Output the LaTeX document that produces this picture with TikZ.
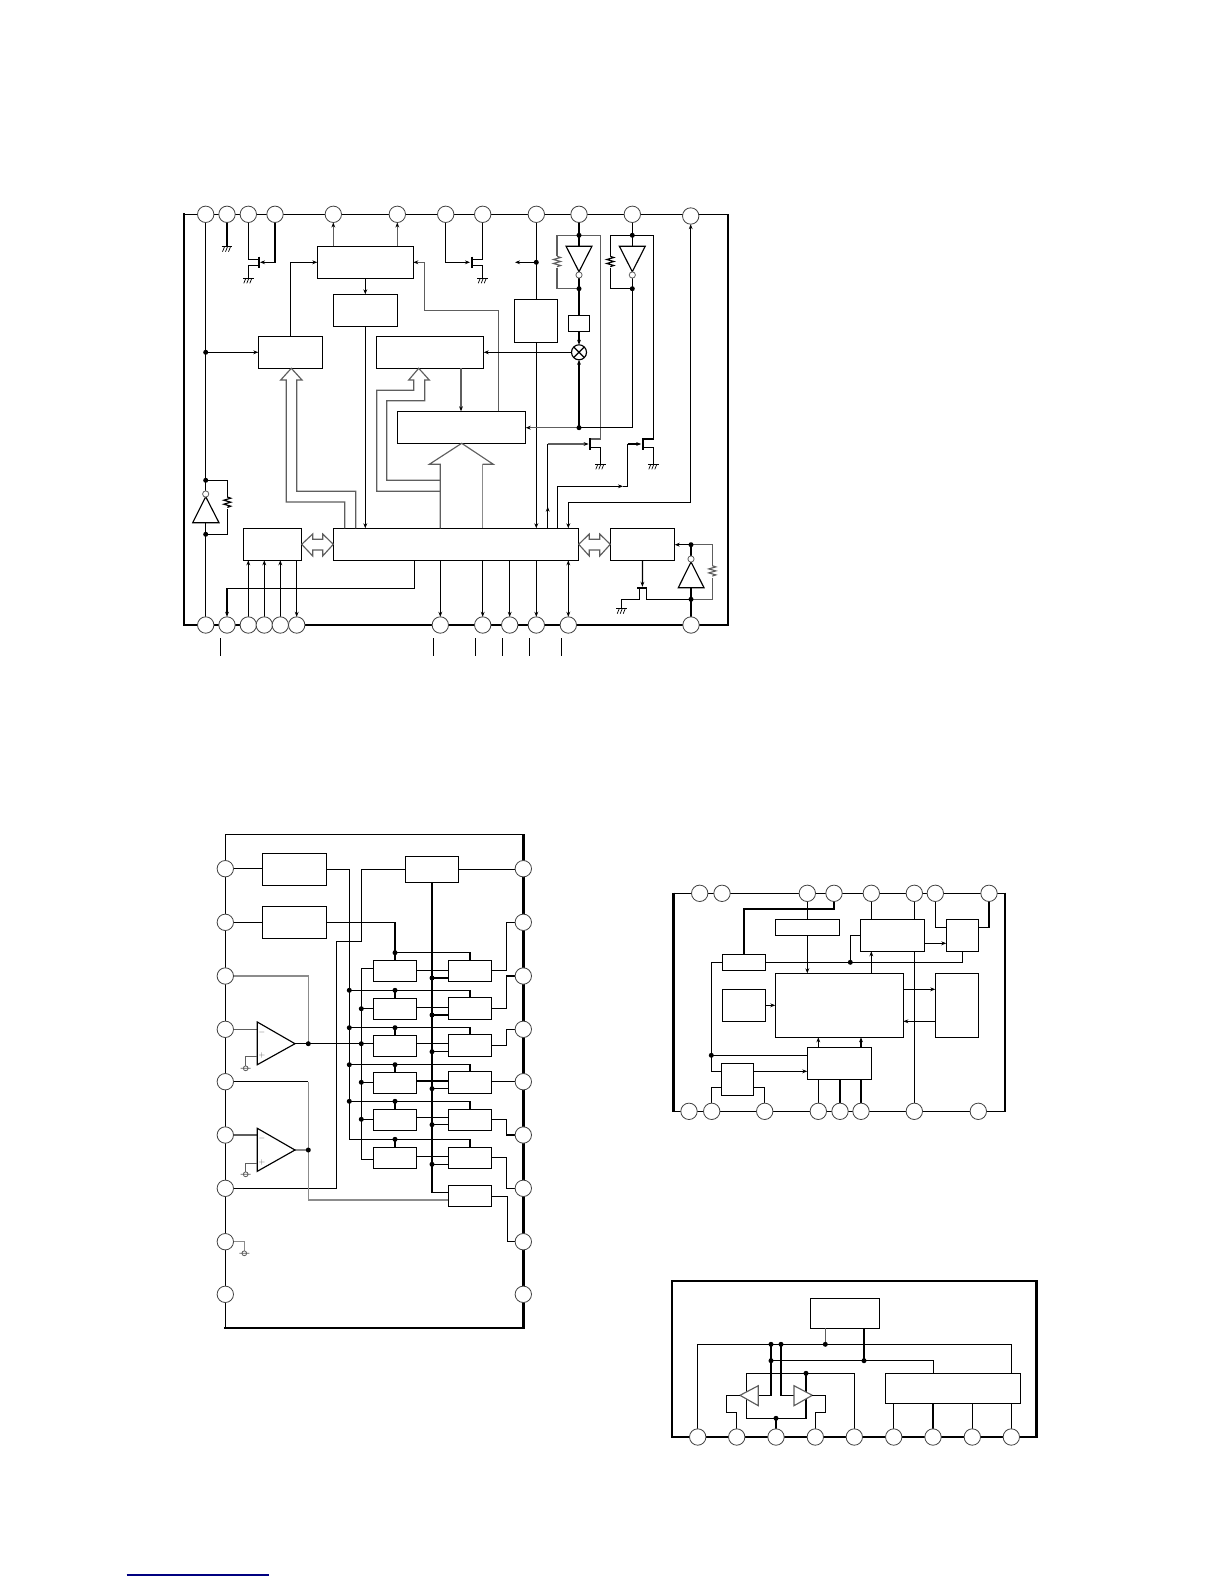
\documentclass[tikz,border=0pt]{standalone}
\usetikzlibrary{arrows.meta,calc}
\pgfdeclarelayer{front}
\pgfsetlayers{main,front}
\definecolor{gline}{HTML}{5E5E5E}
\definecolor{gpale}{HTML}{8C8C8C}
\definecolor{navyline}{HTML}{000080}
\tikzset{
 wire/.style={line width=1.15pt,draw=black},
 gw/.style={line width=1.15pt,draw=gline},
 gp/.style={line width=1.15pt,draw=gpale},
 tipstyle/.tip={Stealth[length=5pt,width=3.8pt]},
 blacktip/.tip={Stealth[length=5pt,width=3.8pt,color=black]},
 arr/.style={wire,-{tipstyle}},
 garr/.style={gw,-{blacktip}},
 dbl/.style={wire,{tipstyle}-{tipstyle}},
 bar/.style={line width=1.9pt,draw=black},
 thickf/.style={line width=2.4pt,draw=black},
 thinf/.style={line width=1.3pt,draw=black},
 blk/.style={draw=black,line width=1.15pt,fill=white,inner sep=0pt,outer sep=0pt,rectangle,anchor=north west},
 pinc/.style={circle,draw=gline!70!black,line width=.8pt,fill=white,minimum size=16.4pt,inner sep=0pt,outer sep=0pt},
 dot/.style={circle,fill=black,draw=none,minimum size=5pt,inner sep=0pt,outer sep=0pt},
 tri/.style={draw=black,line width=1.15pt,fill=white},
 gtri/.style={draw=gline,line width=1.15pt,fill=white},
 bub/.style={draw=gline,line width=.8pt,fill=white},
 sign/.style={inner sep=0pt,font=\footnotesize,text=gline},
}
\newcommand\bx[5]{\node[blk,minimum width={(#4-#2)*1pt},minimum height={(#5-#3)*1pt}] (#1) at (#2,#3) {};}
\newcommand\pin[3]{\begin{pgfonlayer}{front}\node[pinc] (#1) at (#2,#3) {};\end{pgfonlayer}}
\newcommand\jn[3]{\begin{pgfonlayer}{front}\node[dot] (#1) at (#2,#3) {};\end{pgfonlayer}}
\newcommand\gnd[2]{\draw[wire] (#1-5.3,#2) -- (#1+5.3,#2);
 \draw[line width=.7pt] (#1-2.5,#2) -- ++(-2,5) (#1+.5,#2) -- ++(-2,5) (#1+3.5,#2) -- ++(-2,5);}
\newcommand\sgnd[2]{\draw[line width=.8pt,draw=gline] (#1,#2) circle (2.4) (#1-5,#2) -- (#1+5,#2);}
\newcommand\res[3][gw]{\draw[#1,line join=miter] (#2,#3) -- ++(3.5,1.2) -- ++(-7,2) -- ++(7,2) -- ++(-7,2) -- ++(7,2) -- ++(-3.5,1.2);}
\newcommand\invdn[1]{\draw[tri] (#1-12.9,246.3) -- (#1+12.9,246.3) -- (#1,271.7) -- cycle;
 \draw[bub] (#1,275) circle (3.1);}
\begin{document}
\begin{tikzpicture}[x=1pt,y=-1pt]
\useasboundingbox (0,0) rectangle (1224,1584);
\fill[white] (0,0) rectangle (1224,1584);

%%%%%%%%%%%%% Diagram 1
\draw[thinf] (184,214.3) -- (727.7,214.3);
\draw[thickf] (727.7,214.3) -- (727.7,625) -- (184,625) -- (184,213);
\foreach \n/\x in {1/205.7,2/227,3/248.3,4/275,5/333.3,6/397.3,7/445.7,8/482.7,9/536.3,10/579,11/632.3}{\pin{t\n}{\x}{214.3}}
\pin{t12}{690.7}{216}
\foreach \n/\x in {1/205.7,2/227,3/248.3,4/264.3,5/280.3,6/296.7,7/440.3,8/482.7,9/509.7,10/536.3,11/568.3,12/691}{\pin{b\n}{\x}{625}}
\foreach \x in {220.3,433.3,475.3,502.3,529.3,561.3}{\draw[wire] (\x,638.3) -- (\x,655.7);}

\bx{Aa}{317.3}{246.3}{413.3}{278.3}
\bx{Ab}{333.3}{294.3}{397.3}{326.3}
\bx{Ac}{258.3}{336.3}{322.7}{368.3}
\bx{Ad}{376.3}{336.3}{483.7}{368.3}
\bx{Ae}{397.3}{411.3}{525.7}{443.3}
\bx{Af}{514.3}{299.3}{557.7}{342.3}
\bx{Ag}{568.3}{315.3}{589.7}{331.3}
\bx{Ah}{333.3}{528.3}{578.7}{560.3}
\bx{Ai}{243.3}{528.3}{301.7}{560.3}
\bx{Aj}{610.3}{528.3}{674.7}{560.3}
\node[circle,draw=black,line width=1.15pt,minimum size=15pt,inner sep=0pt,outer sep=0pt,fill=white] (mx) at (579,352.3) {};
\draw[wire] (mx.45) -- (mx.225) (mx.135) -- (mx.315);

\jn{j11}{205.7}{352.3}
\jn{j12}{205.7}{480.3}
\jn{j13}{205.7}{534.3}
\jn{j91}{536.3}{262.3}
\jn{j101}{579}{235.3}
\jn{j102}{579}{288.7}
\jn{j103}{579}{427.7}
\jn{j111}{632.3}{235.3}
\jn{j112}{632.3}{288.7}
\jn{j121}{691}{544.7}
\jn{j122}{691}{599.3}

\draw[wire] (t1.south) -- (b1.north);
\draw[arr] (j11.center) -- (j11 -| Ac.west);
\draw[tri] (205.7,496.7) -- (219,522.7) -- (192.7,522.7) -- cycle;
\draw[bub] (205.7,494) circle (3.1);
\draw[wire] (j12.center) -| (227.3,497);
\res[wire]{227.3}{497}
\draw[wire] (227.3,509) |- (j13.center);

\draw[line width=2pt] (t2.south) -- (227,246.7);
\gnd{227}{246.7}
\draw[wire] (t3.south) |- (259,259.3);
\draw[arr] (t4.south) |- (260,262.3);
\draw[bar] (259,256.7) -- (259,267.7);
\draw[wire] (259,265.3) -| (248.3,278.3);
\gnd{248.3}{278.3}

\draw[arr] (Ac.north) |- (Aa.west);
\draw[garr] (t5.south |- Aa.north) -- (t5.south);
\draw[garr] (t6.south |- Aa.north) -- (t6.south);
\draw[arr] (Aa.south) -- (Ab.north);
\draw[arr] (Ab.south) -- (Ab.south |- Ah.north);
\draw[garr] (Ae.north -| 498.7,0) |- (424.3,310.3) |- (Aa.east);

\draw[arr] (t7.south) |- (470,262.3);
\draw[wire] (t8.south) |- (471.7,259.3);
\draw[bar] (471.7,256.7) -- (471.7,267.7);
\draw[wire] (471.7,265.3) -| (482.7,278.3);
\gnd{482.7}{278.3}

\draw[wire] (t9.south) -- (t9.south |- Af.north);
\draw[arr] (t9.south |- Af.south) -- (t9.south |- Ah.north);
\draw[arr] (j91.center) -- (515,262.3);

\draw[wire] (t10.south) -- (j102.center);
\invdn{579}
\draw[wire] (j102.center) -- (Ag.north);
\draw[arr] (Ag.south) -- (mx.north);
\draw[arr] (mx.west) -- (mx.west -| Ad.east);
\draw[arr] (j103.center) -- (mx.south);
\draw[gw] (j101.center) -| (557,256.3);
\res{557}{256.3}
\draw[gw] (557,268.3) |- (j102.center);
\draw[gw] (j101.center) -| (600.3,439) -- (590,439);
\draw[bar] (590,438.3) -- (590,450);
\draw[wire] (590,447.7) -| (600.3,464.3);
\gnd{600.3}{464.3}
\draw[wire] (Ah.north -| 547.7,0) -- (547.7,444);
\draw[arr] (Ah.north -| 547.7,0) -- (547.7,506.7);
\draw[garr] (547.7,444) -- (588.6,444);

\draw[wire] (t11.south) -- (j112.center);
\invdn{632.3}
\draw[wire] (j112.center) |- (j103.center);
\draw[garr] (j103.center) -- (j103 -| Ae.east);
\draw[wire] (j111.center) -| (610.3,256.3);
\res[wire]{610.3}{256.3}
\draw[wire] (610.3,268.3) |- (j112.center);
\draw[wire] (j111.center) -| (653.3,439) -- (642.7,439);
\draw[bar] (642.7,438.3) -- (642.7,450);
\draw[wire] (642.7,447.7) -| (653.3,464.3);
\gnd{653.3}{464.3}
\draw[arr] (Ah.north -| 557.3,0) |- (623,486.3);
\draw[wire] (623,486.3) -- (627.7,486.3) -- (627.7,444);
\draw[arr] (627.7,444) -- (641.2,444);

\draw[dbl] (t12.south) |- (568.3,502.3) -- (Ah.north -| 568.3,0);
\draw[garr] (Ad.south -| 461,0) -- (Ae.north -| 461,0);

% big arrows
\draw[gw,line join=miter] (Ah.north -| 344.7,0) |- (286.3,502) -- (286.3,380) -- (280.7,380) -- (Ac.south -| 291.3,0) -- (302,380) -- (296.7,380) -- (296.7,491.3) -| (Ah.north -| 355.7,0);
\draw[gw,line join=miter] (Ah.north -| 440.3,0) -- (440.3,464.3) -- (429.3,464.3) -- (Ae.south -| 461.7,0) -- (493.3,464.3) -- (482.7,464.3);
\draw[gp] (482.7,464.3) -- (Ah.north -| 482.7,0);
\draw[gw,line join=miter] (440.3,491.3) -- (376.7,491.3) |- (413.7,390.3) -- (413.7,380) -- (408.7,380) -- (Ad.south -| 418.7,0) -- (429.3,380) -- (424.7,380) -- (424.7,400.7) -- (386.7,400.7) |- (440.3,480.3);
% double arrows
\draw[gw,line join=miter] (Ai.east) -- (312.7,534) -- (312.7,539.3) -- (322.7,539.3) -- (322.7,534) -- (Ah.west) -- (322.7,556) -- (322.7,550) -- (312.7,550) -- (312.7,556) -- cycle;
\draw[gw,line join=miter] (Ah.east) -- (589.3,534) -- (589.3,539.3) -- (599.7,539.3) -- (599.7,534) -- (Aj.west) -- (599.7,556) -- (599.7,550) -- (589.3,550) -- (589.3,556) -- cycle;

\draw[arr] (Ah.south -| 414.7,0) |- (227,588.3) -- (b2.north);
\foreach \n in {3,4,5}{\draw[arr] (b\n.north) -- (b\n.north |- Ai.south);}
\draw[arr] (b6.north |- Ai.south) -- (b6.north);
\foreach \n in {7,8,9,10}{\draw[arr] (b\n.north |- Ah.south) -- (b\n.north);}
\draw[dbl] (b11.north |- Ah.south) -- (b11.north);

\draw[arr] (Aj.south) -- (642.4,586.8);
\draw[bar] (637.3,587.7) -- (647.3,587.7);
\draw[wire] (639.7,587.7) |- (621.7,599.3) -- (621.7,608.7);
\gnd{621.7}{608.7}
\draw[wire] (646.7,587.7) |- (j122.center);
\draw[wire] (b12.north) -- (j121.center);
\draw[tri] (691,562) -- (704,587.7) -- (678.3,587.7) -- cycle;
\draw[bub] (691,559) circle (3.1);
\draw[arr] (j121.center) -- (j121 -| Aj.east);
\draw[gw] (j121.center) -| (712.3,565.7);
\res{712.3}{565.7}
\draw[gw] (712.3,577.7) |- (j122.center);

%%%%%%%%%%%%% Diagram 2
\draw[thinf] (225.3,1327.7) -- (225.3,834.3) -- (523.3,834.3);
\draw[thickf] (523.3,834) -- (523.3,1327.7) -- (224.2,1327.7);
\foreach \n/\y in {1/868.7,2/922.3,3/976,4/1029.3,5/1081.7,6/1135,7/1188.3,8/1241.7,9/1294.3}{
 \pin{pl\n}{225.3}{\y}
 \pin{pr\n}{523.3}{\y}
}
\bx{Bp}{262.3}{853.3}{326.7}{885.3}
\bx{Bq}{262.3}{906.3}{326.7}{938.3}
\bx{Br}{405.3}{856.3}{458.7}{882.3}
\bx{M7}{448.3}{1185.3}{491.7}{1206.3}

\draw[wire] (pl1.east) -- (pl1.east -| Bp.west);
\draw[wire] (pl2.east) -- (pl2.east -| Bq.west);
\draw[wire] (Br.east) -- (Br.east -| pr1.west);
\draw[wire] (Bp.east) -- (349.3,869.3) -- (349.3,1139.3) -- (395,1139.3);
\draw[wire] (Br.west) -- (361.7,869.3) -- (361.7,941.3) -- (336.7,941.3) |- (pl7.east);
\draw[wire] (361.3,968.7) -- (361.3,1159.3);
\draw[wire] (Br.south) |- (M7.west |- 0,1192.3);

\foreach \k/\lt/\lb/\rt/\rb/\ya/\yc/\ye/\yr in {
 1/960.3/981.3/960.3/981.3/970.3/978/968.7/952.7,
 2/998.3/1019.3/997.3/1019.3/1007.3/1015/1008.7/990.3,
 3/1035.3/1056.3/1034.3/1056.3/1043.3/1051.7/1043.7/1027.7,
 4/1072.7/1093.3/1071.3/1093.3/1081/1088.7/1082.3/1064.7,
 5/1109.3/1130.3/1109.3/1130.3/1117.3/1124.7/1119.3/1101.3,
 6/1147.3/1168.3/1147.3/1168.3/1156.3/1164.3/1159.3/1139.3}{
 \bx{L\k}{373.3}{\lt}{416.7}{\lb}
 \bx{M\k}{448.3}{\rt}{491.7}{\rb}
 \jn{rl\k}{395}{\yr}
 \jn{rc\k}{432}{\yc}
 \draw[wire] (rl\k.center) -- (L\k.north);
 \draw[wire] (rl\k.center) -| (M\k.north);
 \draw[wire] (L\k.east |- 0,\ya) -- (M\k.west |- 0,\ya);
 \draw[wire] (rc\k.center) -- (rc\k -| M\k.west);
 \draw[wire] (361.3,\ye) -- (L\k.west |- 0,\ye);
}
\foreach \k/\y in {2/990.3,3/1027.7,4/1064.7,5/1101.3}{
 \jn{ba\k}{349.3}{\y}
 \draw[wire] (ba\k.center) -- (rl\k.center);
}
\foreach \k/\y in {2/1008.7,3/1043.7,4/1082.3,5/1119.3}{\jn{bb\k}{361.3}{\y}}
\draw[wire] (Bq.east) -| (L1.north);
\draw[wire] (Br.south) -- (Br.south |- 0,1192.3);
\draw[wire] (M1.east |- 0,970.3) -- (506.3,970.3) |- (pr2.west);
\draw[wire] (M2.east |- 0,1008.3) -- (506.3,1008.3) |- (pr3.west);
\draw[wire] (M3.east |- 0,1045.3) -- (506.3,1045.3) |- (pr4.west);
\draw[wire] (M4.east |- 0,1081.7) -- (pr5.west);
\draw[wire] (M5.east |- 0,1119.3) -- (506.3,1119.3) |- (pr6.west);
\draw[wire] (M6.east |- 0,1157.3) -- (506.3,1157.3) |- (pr7.west);
\draw[wire] (M7.east |- 0,1196.3) -- (507.3,1196.3) |- (pr8.west);

% op amps
\jn{oj1}{308.3}{1043.7}
\jn{oj2}{308.3}{1150}
\draw[gp] (oj1.center) |- (pl3.east);
\draw[gw] (pl4.east) -- (257.3,1029.3);
\draw[wire] (295,1043.7) -- (361.3,1043.7);
\draw[tri] (257.3,1022) -- (295,1043.7) -- (257.3,1064.7) -- cycle;
\node[sign] (m1) at (262,1032) {$-$};
\node[sign] (p1) at (262,1055) {$+$};
\draw[gw] (257.3,1056.3) -- (245.7,1056.3) -- (245.7,1065.8);
\sgnd{245.7}{1068.3}
\draw[gp,line width=1.4pt] (oj2.center |- pl5.east) -- (308.3,1200) -- (M7.west |- 0,1200);
\draw[wire] (pl5.east) -- (308.3,1081.7);
\draw[gw] (pl6.east) -- (257.3,1135);
\draw[gp] (295,1150) -- (oj2.center);
\draw[tri] (257.3,1128.3) -- (295,1150) -- (257.3,1171.3) -- cycle;
\node[sign] (m2) at (262,1138.5) {$-$};
\node[sign] (p2) at (262,1162) {$+$};
\draw[gw] (257.3,1163.3) -- (245.7,1163.3) -- (245.7,1171.9);
\sgnd{245.7}{1174.3}
\draw[gp,line width=1.3pt] (pl8.east) -- (244.3,1241.7) -- (244.3,1250.9);
\sgnd{244.3}{1253.3}

%%%%%%%%%%%%% Diagram 3
\draw[thinf] (673.3,893.3) -- (1004.7,893.3);
\draw[thinf] (673.3,1111.3) -- (1004.7,1111.3);
\draw[thickf] (673.3,892.5) -- (673.3,1112.2);
\draw[thickf] (1004.7,892.5) -- (1004.7,1112.2);
\foreach \n/\x in {1/699.7,2/722,3/807.3,4/834,5/871.3,6/914.3,7/935.3,8/989}{\pin{c\n}{\x}{893.3}}
\foreach \n/\x in {1/689,2/711.7,3/764.7,4/818.3,5/840,6/861,7/914.3,8/978.3}{\pin{e\n}{\x}{1111.3}}
\bx{Ca}{775.3}{919.3}{839.7}{935.3}
\bx{Cb}{860.3}{919.3}{924.7}{951.3}
\bx{Cc}{946.3}{919.3}{978.3}{951.3}
\bx{Cd}{722.3}{954.3}{765.7}{970.3}
\bx{Ce}{775.3}{973.3}{903.3}{1037.3}
\bx{Cf}{722.3}{989.3}{765.7}{1021.3}
\bx{Cg}{935.3}{973.3}{978.3}{1037.3}
\bx{Ch}{807.3}{1047.3}{871.7}{1079.3}
\bx{Ci}{721.3}{1063.3}{753.7}{1095.3}
\jn{j31}{850.3}{962.3}
\jn{j32}{711.3}{1055.3}
\draw[wire] (c3.south) -- (c3.south |- Ca.north);
\draw[arr] (c3.south |- Ca.south) -- (c3.south |- Ce.north);
\draw[wire] (c4.south) -- (c4.south |- 0,909) -| (Cd.north);
\draw[wire] (c5.south) -- (c5.south |- Cb.north);
\draw[wire] (c6.south) -- (c6.south |- Cb.north);
\draw[wire] (e7.north) -- (e7.north |- Cb.south);
\draw[wire] (c7.south) |- (Cc.west |- 0,927.3);
\draw[wire] (c8.south) |- (Cc.east |- 0,927.3);
\draw[arr] (Cb.east |- 0,943.3) -- (Cc.west |- 0,943.3);
\draw[wire] (Cb.west) -| (j31.center);
\draw[wire] (Cd.east) -| (Cc.south);
\draw[wire] (Cd.west) -| (711.3,1071.7) -- (Ci.west |- 0,1071.7);
\draw[wire] (j32.center) -- (j32 -| Ch.west);
\draw[arr] (c5.south |- Ce.north) -- (c5.south |- Cb.south);
\draw[arr] (Ce.east |- 0,989.3) -- (Cg.west |- 0,989.3);
\draw[arr] (Cg.west |- 0,1021.3) -- (Ce.east |- 0,1021.3);
\draw[arr] (Cf.east) -- (Ce.west |- Cf.east);
\foreach \n in {4,6}{\draw[arr] (e\n.north |- Ch.north) -- (e\n.north |- Ce.south);}
\foreach \n in {4,5,6}{\draw[wire] (e\n.north) -- (e\n.north |- Ch.south);}
\draw[arr] (Ci.east |- 0,1071.3) -- (Ch.west |- 0,1071.3);
\draw[wire] (Ci.west |- 0,1087.3) -| (e2.north);
\draw[wire] (Ci.east |- 0,1087.3) -| (e3.north);

%%%%%%%%%%%%% Diagram 4
\draw[thickf] (672,1281) rectangle (1036.3,1437);
\foreach \n/\x in {1/697.7,2/736.7,3/776,4/815.3,5/854.3,6/893.7,7/933,8/972.3,9/1011.3}{\pin{f\n}{\x}{1437}}
\bx{Da}{810.3}{1298.3}{879.3}{1328.3}
\bx{Db}{885.3}{1373.3}{1020.7}{1403.3}
\jn{d1}{771}{1344.3}
\jn{d2}{781}{1344.3}
\jn{d3}{825.3}{1344.3}
\jn{d4}{771}{1360.7}
\jn{d5}{864}{1360.7}
\jn{d6}{806}{1373.3}
\jn{d7}{776}{1418.3}
\draw[wire] (f1.north) |- (1011.3,1344.3) -- (Db.north -| 1011.3,0);
\draw[gw] (d3.center) -- (d3 |- Da.south);
\draw[wire] (d5.center) -- (d5 |- Da.south);
\draw[wire] (d4.center) -| (Db.north -| 933.3,0);
\draw[wire] (d1.center) |- (758.3,1395.3);
\draw[wire] (d2.center) |- (794,1395.3);
\draw[wire] (f5.north) |- (746.3,1373.3) -- (746.3,1418.3) -- (806,1418.3) -- (806,1373.3);
\draw[wire] (d7.center) -- (f3.north);
\draw[gtri] (740,1395.3) -- (758.3,1385.7) -- (758.3,1405.7) -- cycle;
\draw[gtri] (812.3,1395.3) -- (794,1385.7) -- (794,1405.7) -- cycle;
\draw[wire] (740,1395.3) -- (726.3,1395.3) -- (726.3,1412.3) -- (736.7,1412.3) -- (f2.north);
\draw[wire] (812.3,1395.3) -- (825.7,1395.3) -- (825.7,1412.3) -- (815.3,1412.3) -- (f4.north);
\foreach \n in {6,7,8,9}{\draw[wire] (f\n.north) -- (f\n.north |- Db.south);}

\draw[navyline,line width=1.2pt] (126.7,1575) -- (269,1575);
\end{tikzpicture}
\end{document}
